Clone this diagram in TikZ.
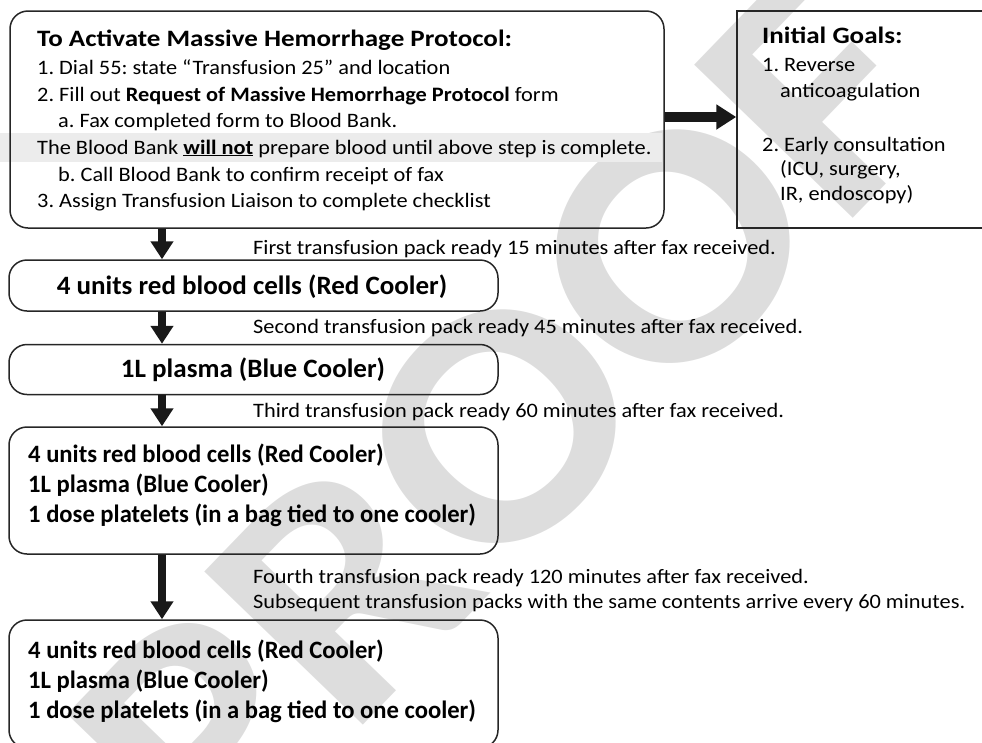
\documentclass[tikz,border=0pt]{standalone}
\usepackage{fontspec}
\setmainfont{Carlito}[FakeStretch=1.09]
\newfontfamily\headfont{Carlito}[FakeStretch=1.15]
\newfontfamily\coolfont{Carlito}[FakeStretch=1.02]
\newfontfamily\bagfont{Carlito}[FakeStretch=0.985]
\usetikzlibrary{arrows.meta,positioning}

\tikzset{
  flowbox/.style={draw=black!85, line width=1.5pt, rounded corners=18pt, inner sep=0pt},
  goalbox/.style={draw=black!85, line width=1.5pt, inner sep=0pt},
  packarrow/.style={draw=black!90, line width=8pt, -{Triangle[width=22pt,length=18pt]}},
  goalarrow/.style={draw=black!90, line width=10pt, -{Triangle[width=24pt,length=20pt]}},
  txt/.style={anchor=base west, inner sep=0pt, font=\fontsize{20.5}{24}\selectfont},
  headtxt/.style={anchor=base west, inner sep=0pt, font=\fontsize{23.5}{27}\headfont\bfseries},
  packtxt/.style={anchor=base west, inner sep=0pt, font=\fontsize{20.5}{24}\selectfont},
  cooltxt/.style={anchor=base, inner sep=0pt, font=\fontsize{26.5}{30}\coolfont\bfseries},
  bagtxt/.style={anchor=base west, inner sep=0pt, font=\fontsize{25}{29}\bagfont\bfseries},
}

\begin{document}
\frenchspacing
\begin{tikzpicture}[x=1pt,y=-1pt]
\useasboundingbox (0,0) rectangle (982,742);
\clip (0,0) rectangle (982,742);
% watermark
\node[rotate=46, text=gray!27, font=\fontsize{340}{340}\selectfont\bfseries, inner sep=0pt] (proof) at (505,420) {PROOF};
% highlighted warning line
\fill[gray!15] (0,133) rectangle (662,162);
% boxes
\node[flowbox, minimum width=654pt, minimum height=217pt] (activate) at (337,119.5) {};
\node[goalbox, minimum width=253pt, minimum height=217pt] (goals) at (863.5,119.5) {};
\node[flowbox, minimum width=489pt, minimum height=51pt] (redcells) at (253.5,285.5) {};
\node[flowbox, minimum width=489pt, minimum height=50pt] (plasma) at (253.5,369.5) {};
\node[flowbox, minimum width=489pt, minimum height=127pt] (third) at (253.5,490.5) {};
\node[flowbox, minimum width=489pt, minimum height=128pt] (fourth) at (253.5,684) {};
% arrows
\coordinate (spine) at (162,0);
\coordinate (mid) at (0,117);
\draw[goalarrow] (activate.east |- mid) -- (goals.west |- mid);
\draw[packarrow] (activate.south -| spine) -- (redcells.north -| spine);
\draw[packarrow] (redcells.south -| spine) -- (plasma.north -| spine);
\draw[packarrow] (plasma.south -| spine) -- (third.north -| spine);
\draw[packarrow] (third.south -| spine) -- (fourth.north -| spine);
% protocol steps
\node[headtxt] (acttitle) at (37,46) {To Activate Massive Hemorrhage Protocol:};
\node[txt] (dial) at (37,74) {1. Dial 55: state “Transfusion 25” and location};
\node[txt] (fill) at (37,101) {2. Fill out \textbf{Request of Massive Hemorrhage Protocol} form};
\node[txt] (fax) at (58,127) {a. Fax completed form to Blood Bank.};
\node[txt] (warn) at (37,154) {The Blood Bank \underline{\textbf{will not}} prepare blood until above step is complete.};
\node[txt] (call) at (58,181) {b. Call Blood Bank to confirm receipt of fax};
\node[txt] (assign) at (37,207) {3. Assign Transfusion Liaison to complete checklist};
% goals
\node[headtxt] (goaltitle) at (762,43) {Initial Goals:};
\node[txt] (rev) at (762,71) {1. Reverse};
\node[txt] (anti) at (780,97) {anticoagulation};
\node[txt] (early) at (762,151) {2. Early consultation};
\node[txt] (icu) at (780,175) {(ICU, surgery,};
\node[txt] (ir) at (780,200) {IR, endoscopy)};
% pack notes
\node[packtxt] (note1) at (253,254) {First transfusion pack ready 15 minutes after fax received.};
\node[packtxt] (note2) at (253,333) {Second transfusion pack ready 45 minutes after fax received.};
\node[packtxt] (note3) at (253,417) {Third transfusion pack ready 60 minutes after fax received.};
\node[packtxt] (note4) at (253,583) {Fourth transfusion pack ready 120 minutes after fax received.};
\node[packtxt] (note5) at (253,608) {Subsequent transfusion packs with the same contents arrive every 60 minutes.};
% pack contents
\node[cooltxt] (rbc) at (252,294) {4 units red blood cells (Red Cooler)};
\node[cooltxt] (ffp) at (253,377) {1L plasma (Blue Cooler)};
\foreach \y/\s in {0/a,196/b}{
  \node[bagtxt] (rbc\s) at (28,462+\y) {4 units red blood cells (Red Cooler)};
  \node[bagtxt] (ffp\s) at (28,492+\y) {1L plasma (Blue Cooler)};
  \node[bagtxt] (plt\s) at (28,522+\y) {1 dose platelets (in a bag tied to one cooler)};
}
\end{tikzpicture}
\end{document}
